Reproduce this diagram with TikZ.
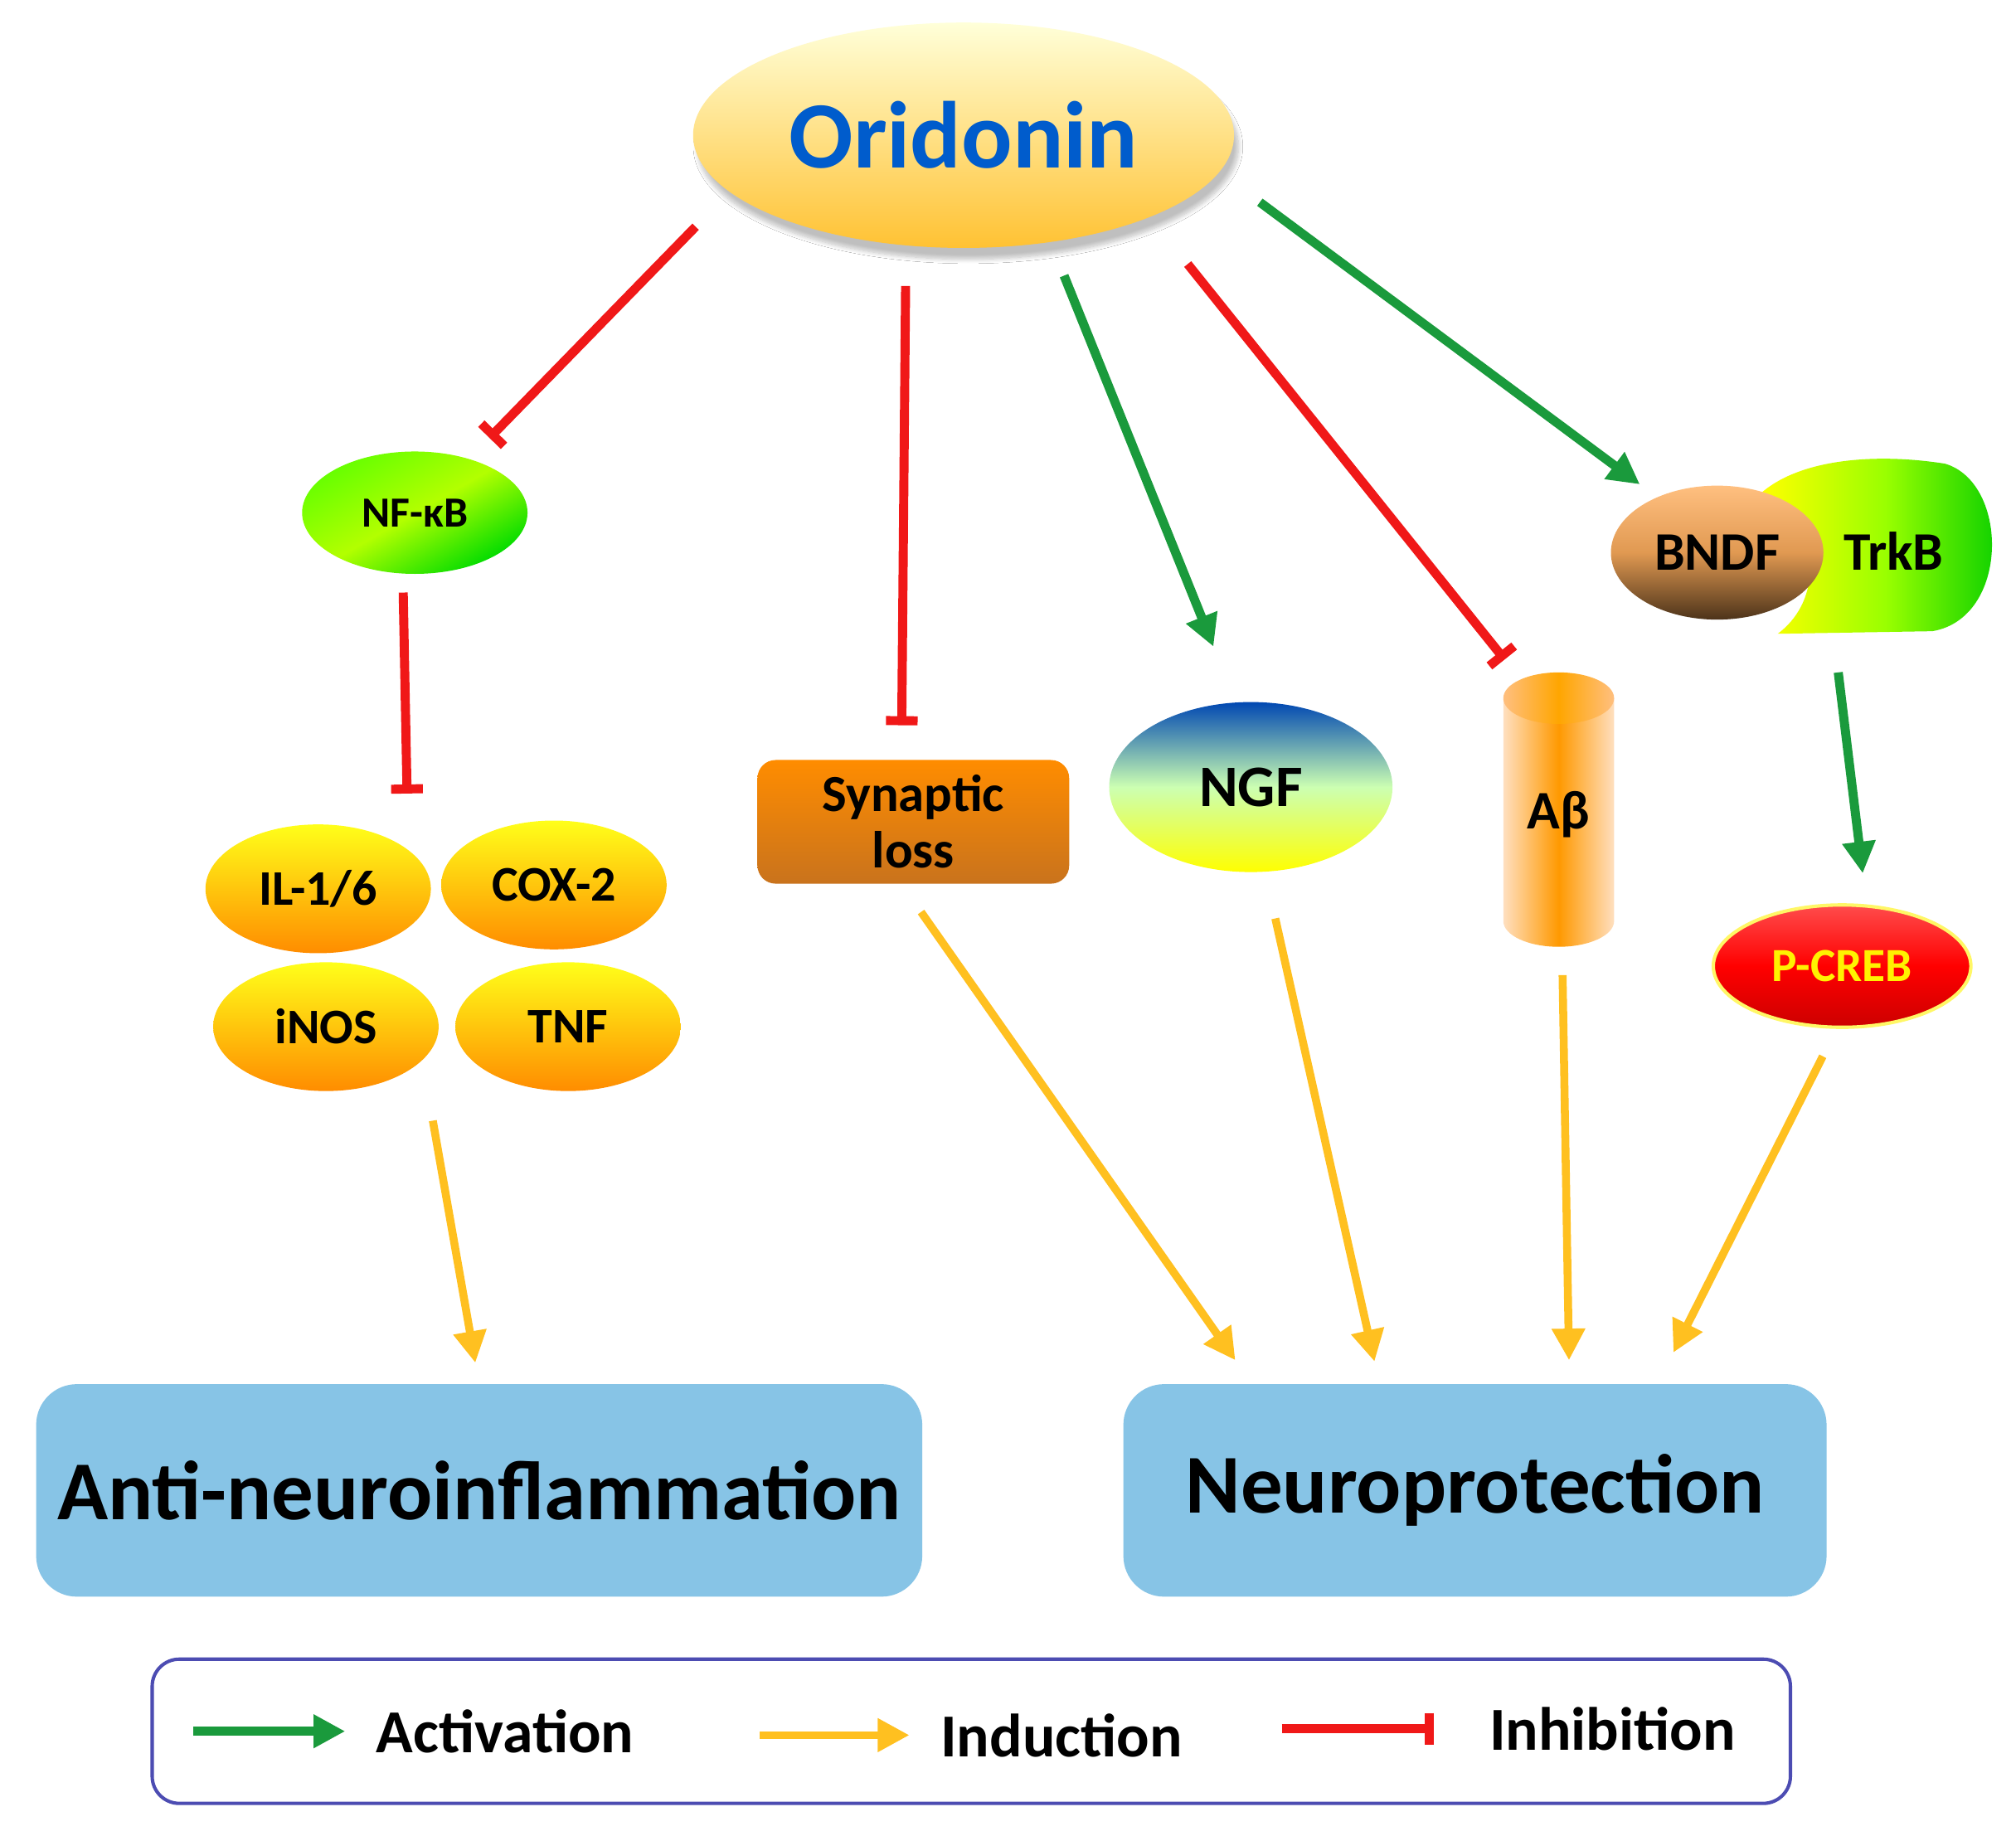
\documentclass[tikz,border=0pt]{standalone}
\usepackage{fontspec}
\setmainfont{Carlito}
\usetikzlibrary{shapes.geometric,arrows.meta,shadows.blur}
\definecolor{gr}{HTML}{1A9A3C}
\definecolor{yl}{HTML}{FFC020}
\definecolor{rd}{HTML}{F01818}
\definecolor{bx}{HTML}{87C4E6}
\tikzset{
 act/.style={draw=gr,line width=4pt,-{Triangle[length=14pt,width=14pt]}},
 ind/.style={draw=yl,line width=3.5pt,-{Triangle[length=14pt,width=14pt]}},
 inh/.style={draw=rd,line width=4pt,-{Bar[width=14pt,line width=4pt]}},
 cyt/.style={ellipse,top color=yellow!90!white,bottom color=orange!90!yellow,minimum width=3.5cm,minimum height=2cm,font=\bfseries\fontsize{22}{24}\selectfont},
 big/.style={rounded corners=18pt,fill=bx,font=\bfseries\fontsize{37}{42}\selectfont},
 lg/.style={anchor=west,font=\bfseries\fontsize{27}{30}\selectfont}
}
\begin{document}
\begin{tikzpicture}[x=0.02cm,y=-0.02cm]
\useasboundingbox (0,0) rectangle (1565,1425);
\fill[white] (0,0) rectangle (1565,1425);
% Oridonin
\node[ellipse,minimum width=8.4cm,minimum height=3.5cm,top color=yellow!15!white,bottom color=orange!60!yellow!80!white,blur shadow={shadow blur steps=10,shadow xshift=2pt,shadow yshift=-5pt,shadow opacity=25},font=\bfseries\fontsize{42}{48}\selectfont,text=blue!55!cyan!80!black] (ori) at (748,105) {Oridonin};
% NF-kB
\node[ellipse,minimum width=3.5cm,minimum height=1.9cm,top color=green!60!yellow,bottom color=green!80!black!70!green,middle color=yellow!70!green,shading angle=30,font=\bfseries\fontsize{19}{22}\selectfont] (nf) at (322,398) {NF-κB};
\node[cyt] (il) at (247,690) {IL-1/6};
\node[cyt] (cox) at (430,687) {COX-2};
\node[cyt] (inos) at (253,797) {iNOS};
\node[cyt] (tnf) at (441,797) {TNF};
% synaptic
\node[rounded corners=8pt,minimum width=4.84cm,minimum height=1.92cm,top color=orange!90!yellow,bottom color=orange!50!brown!90!black,font=\bfseries\fontsize{23}{25}\selectfont,align=center] (syn) at (709,638) {Synaptic\\loss};
% NGF
\node[ellipse,minimum width=4.4cm,minimum height=2.64cm,top color=blue!60!cyan!70!black,bottom color=yellow,middle color=yellow!60!cyan!50!white,font=\bfseries\fontsize{26}{30}\selectfont] (ngf) at (971,611) {NGF};
% Abeta cylinder
\shade[left color=orange!25!white,right color=orange!25!white,middle color=orange!80!yellow,shading angle=90] (1167,542) -- (1167,715) arc[x radius=43,y radius=20,start angle=180,end angle=0] -- (1253,542) -- cycle;
\shade[left color=orange!50!white,right color=orange!50!white,middle color=orange!70!yellow] (1210,542) ellipse[x radius=43,y radius=20];
\node[font=\bfseries\fontsize{24}{28}\selectfont] (ab) at (1210,632) {Aβ};
% TrkB
\shade[left color=yellow,right color=green!80!black,middle color=yellow!60!green] (1368,382) .. controls (1400,355) and (1460,352) .. (1510,360) .. controls (1560,375) and (1560,480) .. (1500,490) -- (1380,492) .. controls (1410,470) and (1420,420) .. (1368,382) -- cycle;
\node[font=\bfseries\fontsize{24}{28}\selectfont] (trk) at (1470,428) {TrkB};
\node[ellipse,minimum width=3.3cm,minimum height=2.08cm,top color=orange!50!white,bottom color=black!60!brown,middle color=brown!60!orange!80!white,font=\bfseries\fontsize{24}{28}\selectfont] (bn) at (1333,429) {BNDF};
% P-CREB
\node[ellipse,minimum width=4cm,minimum height=1.9cm,draw=yellow!60!white,line width=1.5pt,top color=red!70!white,bottom color=red!80!black,middle color=red,text=yellow,font=\bfseries\fontsize{21}{24}\selectfont] (pc) at (1430,750) {P-CREB};
% big boxes
\node[big,minimum width=13.76cm,minimum height=3.3cm] (anti) at (372,1157) {Anti-neuroinflammation};
\node[big,minimum width=10.92cm,minimum height=3.3cm] (neu) at (1145,1157) {Neuroprotection};
% coordinates
\coordinate (a1) at (540,176); \coordinate (a2) at (380,340);
\coordinate (b1) at (703,222); \coordinate (b2) at (700,563);
\coordinate (c1) at (922,205); \coordinate (c2) at (1168,512);
\coordinate (d1) at (313,460); \coordinate (d2) at (316,616);
\coordinate (e1) at (826,214); \coordinate (e2) at (942,502);
\coordinate (f1) at (978,157); \coordinate (f2) at (1273,376);
\coordinate (g1) at (1427,522); \coordinate (g2) at (1446,678);
\coordinate (h1) at (336,870); \coordinate (h2) at (369,1058);
\coordinate (i1) at (715,708); \coordinate (i2) at (959,1056);
\coordinate (j1) at (990,713); \coordinate (j2) at (1067,1057);
\coordinate (k1) at (1213,757); \coordinate (k2) at (1218,1056);
\coordinate (l1) at (1415,820); \coordinate (l2) at (1299,1050);
\draw[inh] (a1) -- (a2);
\draw[inh] (b1) -- (b2);
\draw[inh] (c1) -- (c2);
\draw[inh] (d1) -- (d2);
\draw[act] (e1) -- (e2);
\draw[act] (f1) -- (f2);
\draw[act] (g1) -- (g2);
\draw[ind] (h1) -- (h2);
\draw[ind] (i1) -- (i2);
\draw[ind] (j1) -- (j2);
\draw[ind] (k1) -- (k2);
\draw[ind] (l1) -- (l2);
% legend
\node[draw=blue!40!gray,line width=1.5pt,rounded corners=12pt,minimum width=25.44cm,minimum height=2.24cm] (leg) at (754,1344) {};
\coordinate (m1) at (150,1344); \coordinate (m2) at (268,1344);
\coordinate (n1) at (590,1347); \coordinate (n2) at (706,1347);
\coordinate (o1) at (995,1342); \coordinate (o2) at (1113,1342);
\draw[act] (m1) -- (m2);
\draw[ind] (n1) -- (n2);
\draw[inh] (o1) -- (o2);
\node[lg] (la) at (286,1344) {Activation};
\node[lg] (lb) at (724,1347) {Induction};
\node[lg] (lc) at (1150,1342) {Inhibition};
\end{tikzpicture}
\end{document}
